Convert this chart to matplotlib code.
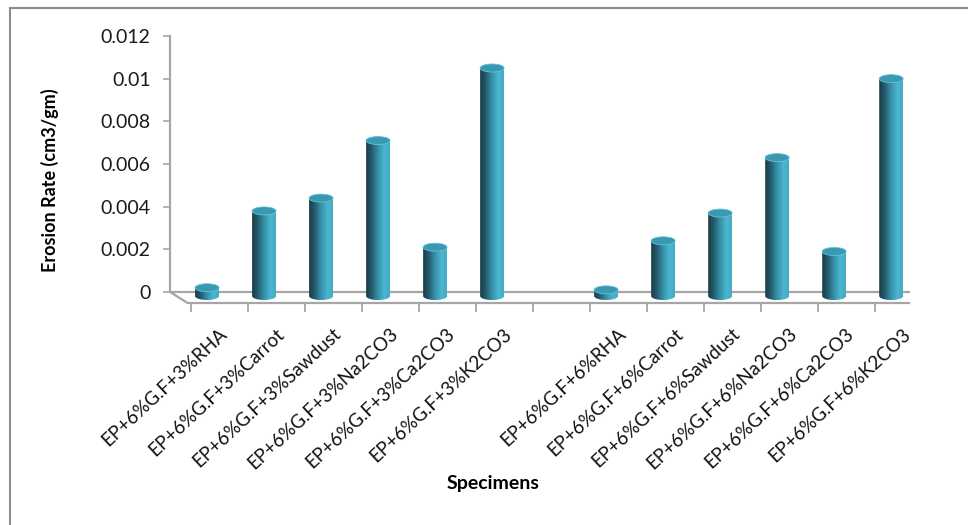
import matplotlib.pyplot as plt
import numpy as np
from matplotlib.colors import LinearSegmentedColormap
from matplotlib.patches import Ellipse, PathPatch, Polygon
from matplotlib.path import Path
from matplotlib.lines import Line2D

# data
labels_3 = ["EP+6%G.F+3%RHA", "EP+6%G.F+3%Carrot", "EP+6%G.F+3%Sawdust",
            "EP+6%G.F+3%Na2CO3", "EP+6%G.F+3%Ca2CO3", "EP+6%G.F+3%K2CO3"]
labels_6 = ["EP+6%G.F+6%RHA", "EP+6%G.F+6%Carrot", "EP+6%G.F+6%Sawdust",
            "EP+6%G.F+6%Na2CO3", "EP+6%G.F+6%Ca2CO3", "EP+6%G.F+6%K2CO3"]
rate_3 = [0.0002, 0.0038, 0.0044, 0.0071, 0.0021, 0.0105]
rate_6 = [0.0001, 0.0024, 0.0037, 0.0063, 0.0019, 0.0100]
yticks = [0, 0.002, 0.004, 0.006, 0.008, 0.01, 0.012]
ytick_labels = ["0", "0.002", "0.004", "0.006", "0.008", "0.01", "0.012"]

categories = labels_3 + [""] + labels_6
values = rate_3 + [np.nan] + rate_6

plt.rcParams['font.family'] = ['Lato', 'DejaVu Sans']

W, H = 968, 525
fig = plt.figure(figsize=(W / 100, H / 100), dpi=100)
# axes: x from 170px to 910px, y=0 at 292px, 0.012 at 36px, bottom extended below zero
YMIN = -0.0025
px_per_unit = (292 - 36) / 0.012
bottom_px = 292 - YMIN * px_per_unit
ax = fig.add_axes([170 / W, 1 - bottom_px / H, 740 / W, (bottom_px - 36) / H])
ax.set_xlim(-0.65, 12.33)
ax.set_ylim(YMIN, 0.012)

edge = '#a6a6a6'
DX, DY = 0.31, -11 / px_per_unit      # depth offset of the floor front edge
BAR_W = 0.42
CAP_H = 8 / px_per_unit
BASE = -4 / px_per_unit               # bars stand mid-depth on the floor
LABEL_Y = -33 / px_per_unit

# floor
x0, x1 = ax.get_xlim()
floor = Polygon([(x0, 0), (x1, 0), (x1 + DX, DY), (x0 + DX, DY)], closed=True,
                facecolor='white', edgecolor=edge, lw=1.6, zorder=1)
ax.add_patch(floor)
tick_x = np.arange(14) + x0 + DX + 0.05
ax.vlines(tick_x, DY, DY - 9 / px_per_unit, color=edge, lw=1.3, zorder=1)

cmap = LinearSegmentedColormap.from_list(
    'cyl', [(0, '#1b3c48'), (0.22, '#25596a'), (0.5, '#3690a8'),
            (0.78, '#4cb6d0'), (1, '#45abc5')])
grad = np.linspace(0, 1, 64).reshape(1, -1)

for i, v in enumerate(values):
    if np.isnan(v):
        continue
    left, right = i - BAR_W / 2, i + BAR_W / 2
    t = np.linspace(np.pi, 2 * np.pi, 40)
    arc = np.column_stack([i + BAR_W / 2 * np.cos(t), BASE + CAP_H / 2 * np.sin(t)])
    verts = np.vstack([[left, v], arc, [right, v], [left, v]])
    codes = [Path.MOVETO] + [Path.LINETO] * (len(verts) - 2) + [Path.CLOSEPOLY]
    body = PathPatch(Path(verts, codes), facecolor='none', edgecolor='none')
    ax.add_patch(body)
    im = ax.imshow(grad, extent=[left, right, BASE - CAP_H / 2, v], aspect='auto',
                   cmap=cmap, zorder=2, interpolation='bilinear')
    im.set_clip_path(body)
    ax.add_patch(Ellipse((i, v), BAR_W, CAP_H, facecolor='#3a98b0',
                         edgecolor='#62c3da', lw=0.6, zorder=3))

ax.set_xlim(x0, x1)
ax.set_ylim(YMIN, 0.012)

for i, lab in enumerate(categories):
    if lab:
        ax.text(i + 0.2, LABEL_Y, lab, rotation=43, ha='right', va='top',
                rotation_mode='anchor', fontsize=13.5, color='#111111')

for s in ['top', 'right', 'bottom']:
    ax.spines[s].set_visible(False)
ax.spines['left'].set_color(edge)
ax.spines['left'].set_linewidth(1.6)
ax.spines['left'].set_bounds(0, 0.012)
ax.set_xticks([])
ax.set_yticks(yticks, ytick_labels)
ax.tick_params(axis='y', length=5, width=1.2, color=edge, pad=9,
               labelsize=14, labelcolor='#1a1a1a')

fig.text(50 / W, 1 - 180 / H, "Erosion Rate (cm3/gm)", rotation=90,
         ha='center', va='center', fontsize=13, fontweight='bold')
fig.text(493 / W, 1 - 484 / H, "Specimens", ha='center', va='center',
         fontsize=14, fontweight='bold')

# outer frame (left and top edges only)
fig.add_artist(Line2D([10 / W, 1], [1 - 8 / H, 1 - 8 / H], color='#8c8c8c', lw=1.5,
                      transform=fig.transFigure))
fig.add_artist(Line2D([10 / W, 10 / W], [0, 1 - 8 / H], color='#8c8c8c', lw=1.5,
                      transform=fig.transFigure))

fig.savefig('out.png', dpi=100)
